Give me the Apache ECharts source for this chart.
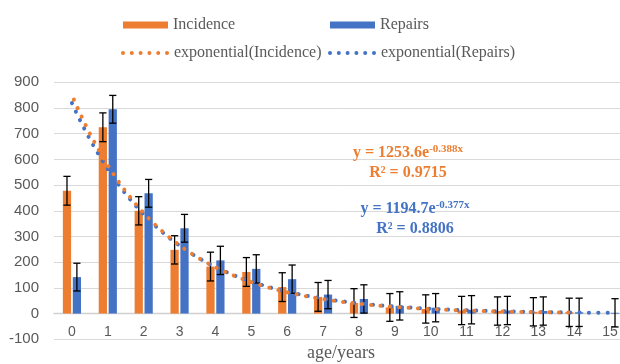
<!DOCTYPE html>
<html>
<head>
<meta charset="utf-8">
<script src="https://cdn.jsdelivr.net/npm/echarts@6/dist/echarts.min.js"></script>
<style>
html,body{margin:0;padding:0;background:#fff;}
#c{width:620px;height:364px;}
</style>
</head>
<body>
<div id="c"></div>
<script>
// ---- data ----
const categories = ['0','1','2','3','4','5','6','7','8','9','10','11','12','13','14','15'];
const incidence   = [478, 725, 400, 248, 183, 162, 103, 65, 41, 24, 18, 12, 10, 7, 5, null];
const repairs     = [142, 795, 468, 332, 207, 174, 134, 74, 57, 30, 23, 15, 12, 10, 5, 3];
const incidenceErr = [56, 56, 55, 55, 56, 56, 56, 56, 56, 54, 55, 55, 55, 55, 55, null];
const repairsErr   = [54, 54, 54, 54, 55, 55, 55, 55, 55, 55, 55, 55, 55, 55, 55, 55];
const yMin = -100, yMax = 900, yStep = 100;
// trendline equations as printed on the chart (x = category index + 1)
const trendIncidence = { a: 1253.6, b: -0.388, r2: '0.9715', last: 14 };
const trendRepairs   = { a: 1194.7, b: -0.377, r2: '0.8806', last: 15 };

const ORANGE = '#ED7D31', BLUE = '#4472C4', GREY = '#595959';
const SERIF = '"Liberation Serif","Times New Roman",serif';
const SANS = '"Liberation Sans",Arial,sans-serif';

function trendPoints(t) {
  const pts = [];
  for (let k = 0; k <= t.last * 20; k++) {
    const x = k / 20;
    pts.push([x, t.a * Math.exp(t.b * (x + 1))]);
  }
  return pts;
}

const BAR_W = 0.23, BAR_GAP = 0.2;
function errSeries(name, vals, errs, side) {
  const data = [];
  vals.forEach((v, i) => { if (v != null && errs[i] != null) data.push([i, v, errs[i]]); });
  return {
    type: 'custom', name: name, xAxisIndex: 0, yAxisIndex: 0, z: 4, silent: true,
    encode: { x: 0, y: 1 },
    data: data,
    renderItem: function (params, api) {
      const i = api.value(0), v = api.value(1), e = api.value(2);
      const band = api.size([1, 0])[0];
      const w = band * BAR_W, g = w * BAR_GAP;
      const off = side * (w + g) / 2;
      const top = api.coord([i, v + e]);
      const bot = api.coord([i, v - e]);
      const x = top[0] + off, cap = 3.6;
      const st = { stroke: '#000', lineWidth: 1.3, fill: null };
      return {
        type: 'group',
        children: [
          { type: 'line', shape: { x1: x, y1: top[1], x2: x, y2: bot[1] }, style: st },
          { type: 'line', shape: { x1: x - cap, y1: top[1], x2: x + cap, y2: top[1] }, style: st },
          { type: 'line', shape: { x1: x - cap, y1: bot[1], x2: x + cap, y2: bot[1] }, style: st }
        ]
      };
    }
  };
}

function eqText(t) {
  return '{m|y = ' + t.a + 'e}{s|' + t.b + 'x}';
}

// legend icon: a row of six round dots (like the dotted trendline)
function dotRowPath() {
  let p = 'path://';
  const r = 2;
  for (let k = 0; k < 6; k++) {
    const cx = 2 + k * 8.8;
    p += 'M' + (cx - r) + ',2a' + r + ',' + r + ' 0 1,0 ' + (2 * r) + ',0a' + r + ',' + r + ' 0 1,0 ' + (-2 * r) + ',0Z';
  }
  return p;
}

const chart = echarts.init(document.getElementById('c'), null, { renderer: 'canvas' });
const legendText = { fontFamily: SERIF, fontSize: 16, color: GREY };

chart.setOption({
  animation: false,
  backgroundColor: '#fff',
  grid: { left: 54, top: 82.3, width: 574, height: 257, outerBoundsMode: 'none' },
  legend: [
    { data: ['Incidence'], left: 123, top: 17, padding: 0, itemWidth: 45, itemHeight: 7, icon: 'rect', textStyle: legendText, selectedMode: false },
    { data: ['Repairs'], left: 330, top: 17, padding: 0, itemWidth: 45, itemHeight: 7, icon: 'rect', textStyle: legendText, selectedMode: false },
    { data: ['exponential(Incidence)'], left: 121, top: 45, padding: 0, itemWidth: 48, itemHeight: 4, icon: dotRowPath(), textStyle: legendText, selectedMode: false },
    { data: ['exponential(Repairs)'], left: 328, top: 45, padding: 0, itemWidth: 48, itemHeight: 4, icon: dotRowPath(), textStyle: legendText, selectedMode: false }
  ],
  xAxis: [
    {
      type: 'category', data: categories, gridIndex: 0, position: 'bottom',
      axisLine: { onZero: false, lineStyle: { color: '#D0D0D0', width: 1.3 } },
      offset: -25.7,
      axisTick: { show: false },
      axisLabel: { margin: 12, fontSize: 14, color: GREY, fontFamily: SANS },
      splitLine: { show: false },
      name: 'age/years', nameLocation: 'middle', nameGap: 31,
      nameTextStyle: { fontFamily: SERIF, fontSize: 18, color: GREY }
    },
    { type: 'value', gridIndex: 0, min: -0.5, max: 15.5, show: false, position: 'top', axisLine: { onZero: false } }
  ],
  yAxis: {
    type: 'value', min: yMin, max: yMax, interval: yStep,
    axisLine: { show: false, onZero: false },
    axisTick: { show: false },
    axisLabel: { margin: 15, fontSize: 15, color: GREY, fontFamily: SANS },
    splitLine: { lineStyle: { color: '#D9D9D9', width: 1 } }
  },
  series: [
    { name: 'Incidence', type: 'bar', data: incidence, barWidth: (BAR_W * 100) + '%', barGap: (BAR_GAP * 100) + '%', itemStyle: { color: ORANGE }, z: 2 },
    { name: 'Repairs', type: 'bar', data: repairs, barWidth: (BAR_W * 100) + '%', barGap: (BAR_GAP * 100) + '%', itemStyle: { color: BLUE }, z: 2 },
    errSeries('errIncidence', incidence, incidenceErr, -1),
    errSeries('errRepairs', repairs, repairsErr, 1),
    { name: 'exponential(Repairs)', type: 'line', xAxisIndex: 1, yAxisIndex: 0, data: trendPoints(trendRepairs), symbol: 'none', showSymbol: false, silent: true, z: 6,
      itemStyle: { color: BLUE },
      lineStyle: { color: BLUE, width: 4, type: [0.1, 9.3], cap: 'round' } },
    { name: 'exponential(Incidence)', type: 'line', xAxisIndex: 1, yAxisIndex: 0, data: trendPoints(trendIncidence), symbol: 'none', showSymbol: false, silent: true, z: 6,
      itemStyle: { color: ORANGE },
      lineStyle: { color: ORANGE, width: 4, type: [0.1, 9.3], cap: 'round', dashOffset: 4.5 } }
  ],
  graphic: [
    { type: 'text', x: 408, y: 153, z: 10, style: { text: eqText(trendIncidence), align: 'center', verticalAlign: 'middle',
      rich: { m: { fontFamily: SERIF, fontSize: 16, fontWeight: 'bold', fill: ORANGE, color: ORANGE, lineHeight: 18 },
              s: { fontFamily: SERIF, fontSize: 11, fontWeight: 'bold', fill: ORANGE, color: ORANGE, verticalAlign: 'top', lineHeight: 10 } } } },
    { type: 'text', x: 408, y: 172.5, z: 10, style: { text: 'R² = ' + trendIncidence.r2, align: 'center', verticalAlign: 'middle',
      font: 'bold 16px ' + SERIF, fill: ORANGE } },
    { type: 'text', x: 415, y: 209, z: 10, style: { text: eqText(trendRepairs), align: 'center', verticalAlign: 'middle',
      rich: { m: { fontFamily: SERIF, fontSize: 16, fontWeight: 'bold', fill: BLUE, color: BLUE, lineHeight: 18 },
              s: { fontFamily: SERIF, fontSize: 11, fontWeight: 'bold', fill: BLUE, color: BLUE, verticalAlign: 'top', lineHeight: 10 } } } },
    { type: 'text', x: 415, y: 228.5, z: 10, style: { text: 'R² = ' + trendRepairs.r2, align: 'center', verticalAlign: 'middle',
      font: 'bold 16px ' + SERIF, fill: BLUE } }
  ]
});
</script>
</body>
</html>
